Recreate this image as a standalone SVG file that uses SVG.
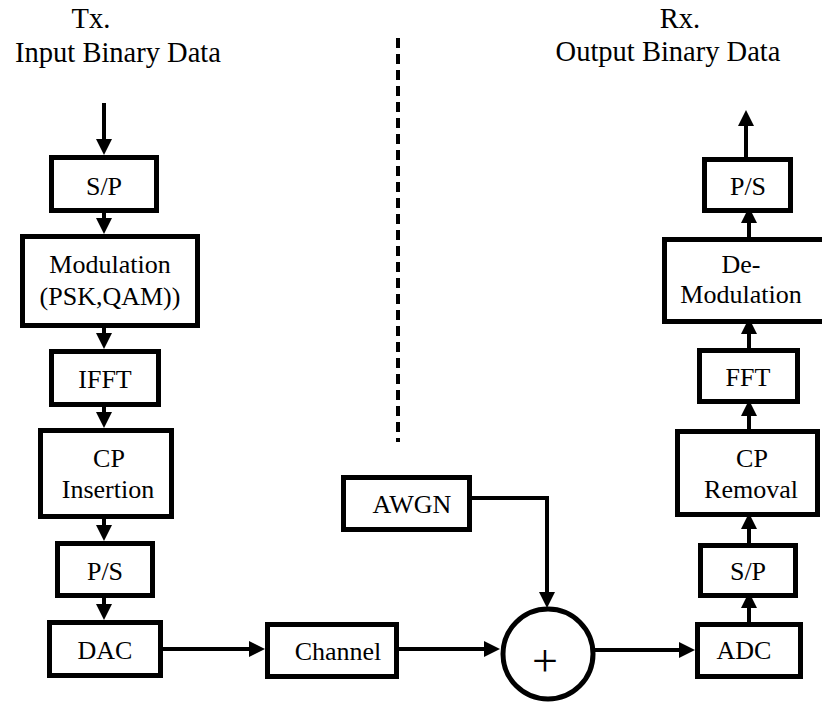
<svg xmlns="http://www.w3.org/2000/svg" width="822" height="702" viewBox="0 0 822 702">
  <defs>
    <marker id="arrow" markerUnits="userSpaceOnUse" markerWidth="16" markerHeight="16" refX="8" refY="8" orient="auto">
      <path d="M0,0 L16,8 L0,16 Z" fill="#000"/>
    </marker>
    <style>
      .box { fill: #fff; stroke: #000; stroke-width: 5; }
      text { font-family: 'Liberation Serif', 'Times New Roman', 'DejaVu Serif', serif; fill: #000; text-anchor: middle; }
      .lbl { font-size: 26px; }
      .head { font-size: 28.5px; }
      .wire { fill: none; stroke: #000; stroke-width: 4; marker-end: url(#arrow); }
    </style>
  </defs>
  <rect width="822" height="702" fill="#fff"/>

  <!-- headings -->
  <g id="tx-title" font-family="Liberation Serif, serif">
    <text class="head" x="91" y="28">Tx.</text>
    <text class="head" x="118" y="62">Input Binary Data</text>
  </g>
  <g id="rx-title" font-family="Liberation Serif, serif">
    <text class="head" x="680" y="28">Rx.</text>
    <text class="head" x="668" y="61">Output Binary Data</text>
  </g>

  <!-- Tx / Rx divider -->
  <line id="divider" x1="398" y1="38" x2="398" y2="442" stroke="#000" stroke-width="4" stroke-dasharray="10 6"/>

  <!-- connectors -->
  <g id="connectors">
    <path class="wire" d="M104,103 V147"/>
    <path class="wire" d="M104,213 V226"/>
    <path class="wire" d="M104,328 V341"/>
    <path class="wire" d="M104,407 V420"/>
    <path class="wire" d="M104,519 V533"/>
    <path class="wire" d="M104,598 V612"/>
    <path class="wire" d="M163,649 H257"/>
    <path class="wire" d="M399,649 H492"/>
    <path class="wire" d="M472,498 H547 V600"/>
    <path class="wire" d="M593,650 H687"/>
    <path class="wire" d="M749,622 V600"/>
    <path class="wire" d="M749,543 V521"/>
    <path class="wire" d="M749,429 V408"/>
    <path class="wire" d="M749,348 V326"/>
    <path class="wire" d="M749,237 V215"/>
    <path class="wire" d="M746,157 V118"/>
  </g>

  <!-- transmitter chain -->
  <g id="tx-sp">
    <rect class="box" x="51.5" y="157.5" width="105" height="53"/>
    <text class="lbl" x="104" y="195">S/P</text>
  </g>
  <g id="tx-modulation">
    <rect class="box" x="22.5" y="236.5" width="175" height="89"/>
    <text class="lbl" x="110" y="273">Modulation</text>
    <text class="lbl" x="110" y="305">(PSK,QAM))</text>
  </g>
  <g id="tx-ifft">
    <rect class="box" x="51.5" y="351.5" width="107" height="53"/>
    <text class="lbl" x="105" y="388">IFFT</text>
  </g>
  <g id="tx-cp-insertion">
    <rect class="box" x="40.5" y="430.5" width="131" height="86"/>
    <text class="lbl" x="109" y="467">CP</text>
    <text class="lbl" x="108" y="498">Insertion</text>
  </g>
  <g id="tx-ps">
    <rect class="box" x="57.5" y="543.5" width="95" height="52"/>
    <text class="lbl" x="105" y="580">P/S</text>
  </g>
  <g id="tx-dac">
    <rect class="box" x="49.5" y="622.5" width="111" height="53"/>
    <text class="lbl" x="105" y="659">DAC</text>
  </g>

  <!-- channel -->
  <g id="channel">
    <rect class="box" x="267.5" y="624.5" width="129" height="52"/>
    <text class="lbl" x="338" y="660">Channel</text>
  </g>
  <g id="awgn">
    <rect class="box" x="343.5" y="477.5" width="126" height="52"/>
    <text class="lbl" x="412" y="513">AWGN</text>
  </g>
  <g id="adder">
    <circle cx="548" cy="654" r="45" fill="#fff" stroke="#000" stroke-width="5"/>
    <text x="545" y="676" font-size="46">+</text>
  </g>

  <!-- receiver chain -->
  <g id="rx-adc">
    <rect class="box" x="697.5" y="624.5" width="103" height="52"/>
    <text class="lbl" x="744" y="659">ADC</text>
  </g>
  <g id="rx-sp">
    <rect class="box" x="700.5" y="545.5" width="95" height="50"/>
    <text class="lbl" x="748" y="580">S/P</text>
  </g>
  <g id="rx-cp-removal">
    <rect class="box" x="677.5" y="431.5" width="140" height="83"/>
    <text class="lbl" x="752" y="467">CP</text>
    <text class="lbl" x="751" y="498">Removal</text>
  </g>
  <g id="rx-fft">
    <rect class="box" x="699.5" y="350.5" width="98" height="51"/>
    <text class="lbl" x="748" y="386">FFT</text>
  </g>
  <g id="rx-demodulation">
    <rect class="box" x="664.5" y="239.5" width="162" height="82"/>
    <text class="lbl" x="741" y="273">De-</text>
    <text class="lbl" x="741" y="303">Modulation</text>
  </g>
  <g id="rx-ps">
    <rect class="box" x="704.5" y="159.5" width="86" height="51"/>
    <text class="lbl" x="748" y="195">P/S</text>
  </g>
</svg>
